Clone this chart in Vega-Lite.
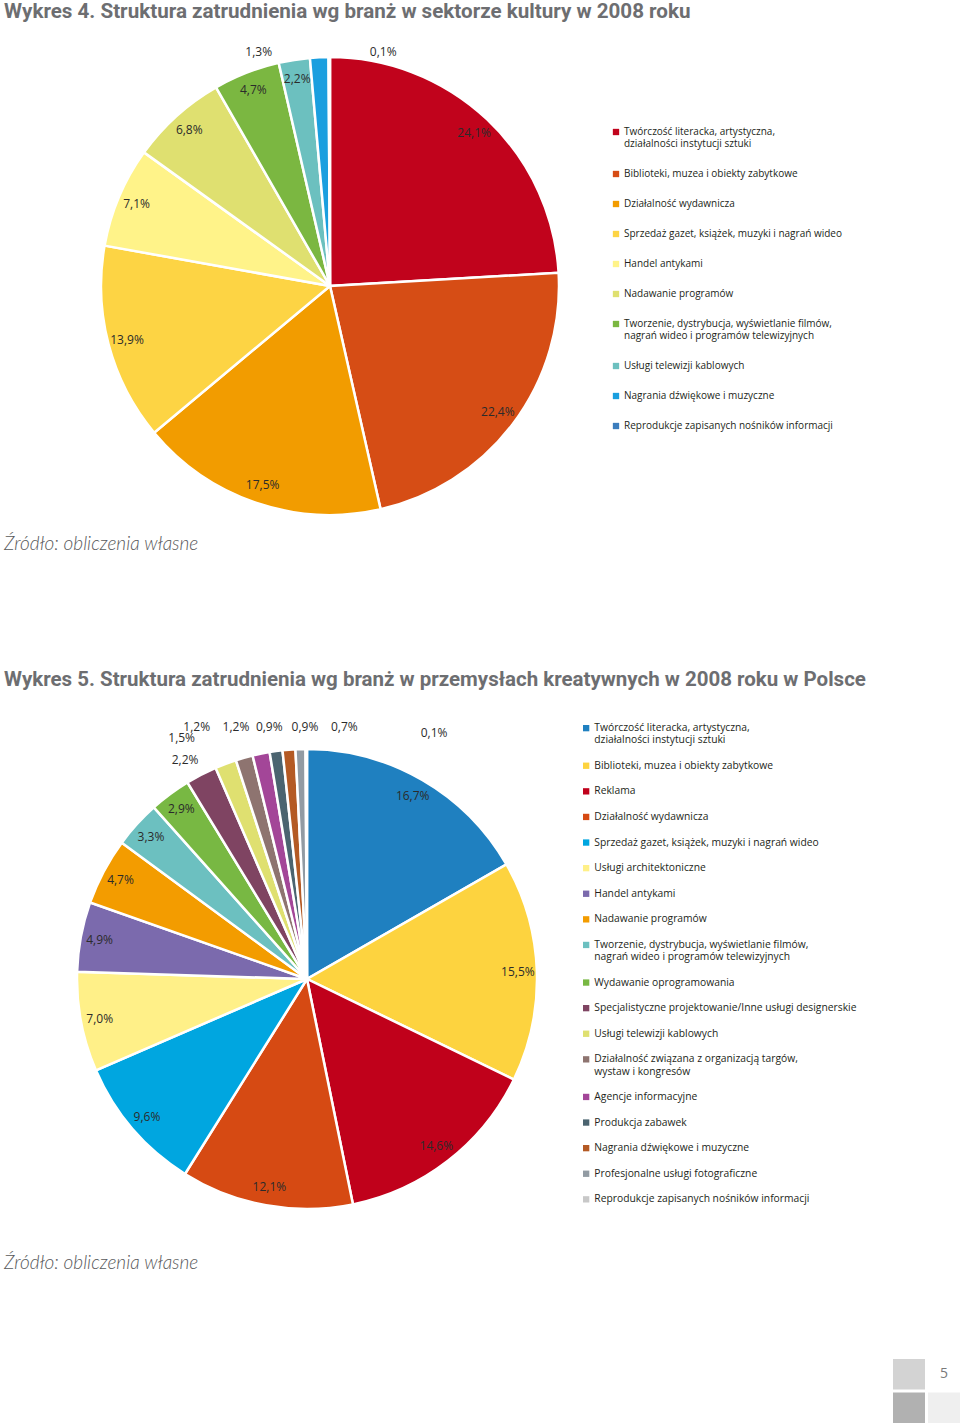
{
  "$schema": "https://vega.github.io/schema/vega-lite/v6.json",
  "padding": {"top": 1, "left": 0, "right": 0, "bottom": 0},
  "background": "#ffffff",
  "config": {
    "view": {"stroke": null},
    "locale": {"number": {"decimal": ",", "thousands": " ", "grouping": [3], "currency": ["", " zł"]}},
    "text": {"font": "Open Sans"}
  },
  "datasets": {
    "k": [
      {"idx": 1, "cat": "Twórczość literacka, artystyczna, działalności instytucji sztuki", "v": 0.241},
      {"idx": 2, "cat": "Biblioteki, muzea i obiekty zabytkowe", "v": 0.224},
      {"idx": 3, "cat": "Działalność wydawnicza", "v": 0.175},
      {"idx": 4, "cat": "Sprzedaż gazet, książek, muzyki i nagrań wideo", "v": 0.139},
      {"idx": 5, "cat": "Handel antykami", "v": 0.071},
      {"idx": 6, "cat": "Nadawanie programów", "v": 0.068},
      {"idx": 7, "cat": "Tworzenie, dystrybucja, wyświetlanie filmów, nagrań wideo i programów telewizyjnych", "v": 0.047},
      {"idx": 8, "cat": "Usługi telewizji kablowych", "v": 0.022},
      {"idx": 9, "cat": "Nagrania dźwiękowe i muzyczne", "v": 0.013},
      {"idx": 10, "cat": "Reprodukcje zapisanych nośników informacji", "v": 0.001}
    ],
    "p": [
      {"idx": 1, "cat": "Twórczość literacka, artystyczna, działalności instytucji sztuki", "v": 0.167},
      {"idx": 2, "cat": "Biblioteki, muzea i obiekty zabytkowe", "v": 0.155},
      {"idx": 3, "cat": "Reklama", "v": 0.146},
      {"idx": 4, "cat": "Działalność wydawnicza", "v": 0.121},
      {"idx": 5, "cat": "Sprzedaż gazet, książek, muzyki i nagrań wideo", "v": 0.096},
      {"idx": 6, "cat": "Usługi architektoniczne", "v": 0.070},
      {"idx": 7, "cat": "Handel antykami", "v": 0.049},
      {"idx": 8, "cat": "Nadawanie programów", "v": 0.047},
      {"idx": 9, "cat": "Tworzenie, dystrybucja, wyświetlanie filmów, nagrań wideo i programów telewizyjnych", "v": 0.033},
      {"idx": 10, "cat": "Wydawanie oprogramowania", "v": 0.029},
      {"idx": 11, "cat": "Specjalistyczne projektowanie/Inne usługi designerskie", "v": 0.022},
      {"idx": 12, "cat": "Usługi telewizji kablowych", "v": 0.015},
      {"idx": 13, "cat": "Działalność związana z organizacją targów, wystaw i kongresów", "v": 0.012},
      {"idx": 14, "cat": "Agencje informacyjne", "v": 0.012},
      {"idx": 15, "cat": "Produkcja zabawek", "v": 0.009},
      {"idx": 16, "cat": "Nagrania dźwiękowe i muzyczne", "v": 0.009},
      {"idx": 17, "cat": "Profesjonalne usługi fotograficzne", "v": 0.007},
      {"idx": 18, "cat": "Reprodukcje zapisanych nośników informacji", "v": 0.001}
    ],
    "page": [
      {"col": "a", "row": "1", "cell": "s1", "page": ""},
      {"col": "b", "row": "1", "cell": "s0", "page": "5"},
      {"col": "a", "row": "2", "cell": "s3", "page": ""},
      {"col": "b", "row": "2", "cell": "s2", "page": ""}
    ]
  },
  "spacing": 114,
  "resolve": {"scale": {"color": "independent"}, "legend": {"color": "independent"}},
  "vconcat": [
    {
      "title": {"text": "Źródło: obliczenia własne", "orient": "bottom", "anchor": "start", "font": "Lato", "fontStyle": "italic", "fontWeight": 300, "fontSize": 19, "color": "#58595b", "offset": 10, "dx": 4},
      "vconcat": [
        {
          "title": {"text": "Wykres 4. Struktura zatrudnienia wg branż w sektorze kultury w 2008 roku", "anchor": "start", "font": "Roboto", "fontSize": 20.6, "fontWeight": "bold", "color": "#6d6e71", "offset": 23.4, "dx": 4},
          "width": 660,
          "height": 460,
          "data": {"name": "k"},
          "encoding": {
            "theta": {"field": "v", "type": "quantitative", "stack": true},
            "order": {"field": "idx", "type": "quantitative"}
          },
          "layer": [
            {
              "mark": {"type": "arc", "outerRadius": 229, "stroke": "#ffffff", "strokeWidth": 2.5},
              "encoding": {
                "color": {
                  "field": "cat", "type": "nominal",
                  "scale": {
                    "domain": ["Twórczość literacka, artystyczna, działalności instytucji sztuki", "Biblioteki, muzea i obiekty zabytkowe", "Działalność wydawnicza", "Sprzedaż gazet, książek, muzyki i nagrań wideo", "Handel antykami", "Nadawanie programów", "Tworzenie, dystrybucja, wyświetlanie filmów, nagrań wideo i programów telewizyjnych", "Usługi telewizji kablowych", "Nagrania dźwiękowe i muzyczne", "Reprodukcje zapisanych nośników informacji"],
                    "range": ["#c1031c", "#d64d15", "#f29c00", "#fdd444", "#fff389", "#dfe070", "#7bb741", "#6cc0bf", "#1a9fdf", "#3b7dbd"]
                  },
                  "legend": {
                    "orient": "none", "legendX": 611, "legendY": 71, "direction": "vertical", "title": null,
                    "symbolType": "square", "symbolSize": 40, "symbolStrokeWidth": 0, "symbolOffset": 0,
                    "labelFont": "Open Sans", "labelFontSize": 10, "labelColor": "#231f20", "labelLimit": 400, "labelOffset": 3,
                    "rowPadding": 20, "padding": 0,
                    "labelExpr": "split(replace(replace(replace(datum.label, 'artystyczna, ', 'artystyczna,|'), 'filmów, ', 'filmów,|'), 'targów, ', 'targów,|'), '|')"
                  }
                }
              }
            },
            {
              "mark": {"type": "text", "radius": 210, "fontSize": 12, "color": "#2b2b2b", "font": "Open Sans"},
              "encoding": {"detail": {"field": "cat"}, "text": {"field": "v", "type": "quantitative", "format": ".1%", "condition": {"test": "datum.v < 0.02", "value": ""}}}
            },
            {
              "mark": {"type": "text", "radius": 240, "dx": -60, "dy": 5.5, "fontSize": 12, "color": "#2b2b2b", "font": "Open Sans"},
              "encoding": {"detail": {"field": "cat"}, "text": {"field": "v", "type": "quantitative", "format": ".1%", "condition": {"test": "datum.idx != 9", "value": ""}}}
            },
            {
              "mark": {"type": "text", "radius": 240, "dx": 54, "dy": 5.7, "fontSize": 12, "color": "#2b2b2b", "font": "Open Sans"},
              "encoding": {"detail": {"field": "cat"}, "text": {"field": "v", "type": "quantitative", "format": ".1%", "condition": {"test": "datum.idx != 10", "value": ""}}}
            }
          ]
        }
      ]
    },
    {
      "spacing": 85,
      "resolve": {"scale": {"color": "independent"}, "legend": {"color": "independent"}},
      "vconcat": [
        {
          "title": {"text": "Źródło: obliczenia własne", "orient": "bottom", "anchor": "start", "font": "Lato", "fontStyle": "italic", "fontWeight": 300, "fontSize": 19, "color": "#58595b", "offset": 20, "dx": 4},
          "vconcat": [
            {
              "title": {"text": "Wykres 5. Struktura zatrudnienia wg branż w przemysłach kreatywnych w 2008 roku w Polsce", "anchor": "start", "font": "Roboto", "fontSize": 20.5, "fontWeight": "bold", "color": "#6d6e71", "offset": 21.5, "dx": 4},
              "width": 614,
              "height": 460,
              "data": {"name": "p"},
              "encoding": {
                "theta": {"field": "v", "type": "quantitative", "stack": true},
                "order": {"field": "idx", "type": "quantitative"}
              },
              "layer": [
                {
                  "mark": {"type": "arc", "outerRadius": 230, "stroke": "#ffffff", "strokeWidth": 2.5},
                  "encoding": {
                    "color": {
                      "field": "cat", "type": "nominal",
                      "scale": {
                        "domain": ["Twórczość literacka, artystyczna, działalności instytucji sztuki", "Biblioteki, muzea i obiekty zabytkowe", "Reklama", "Działalność wydawnicza", "Sprzedaż gazet, książek, muzyki i nagrań wideo", "Usługi architektoniczne", "Handel antykami", "Nadawanie programów", "Tworzenie, dystrybucja, wyświetlanie filmów, nagrań wideo i programów telewizyjnych", "Wydawanie oprogramowania", "Specjalistyczne projektowanie/Inne usługi designerskie", "Usługi telewizji kablowych", "Działalność związana z organizacją targów, wystaw i kongresów", "Agencje informacyjne", "Produkcja zabawek", "Nagrania dźwiękowe i muzyczne", "Profesjonalne usługi fotograficzne", "Reprodukcje zapisanych nośników informacji"],
                        "range": ["#1f80c0", "#fdd33f", "#c0011b", "#d64a13", "#00a6e0", "#fff088", "#7b6aad", "#f39c00", "#6cc0c0", "#78b843", "#7f4462", "#dfe070", "#8e7470", "#a34698", "#4b6470", "#b45a24", "#929ba3", "#c8c8c8"]
                      },
                      "legend": {
                        "orient": "none", "legendX": 581, "legendY": -26, "direction": "vertical", "title": null,
                        "symbolType": "square", "symbolSize": 40, "symbolStrokeWidth": 0, "symbolOffset": 0,
                        "labelFont": "Open Sans", "labelFontSize": 10.3, "labelColor": "#231f20", "labelLimit": 400, "labelOffset": 3,
                        "rowPadding": 14.6, "padding": 0,
                        "labelExpr": "split(replace(replace(replace(datum.label, 'artystyczna, ', 'artystyczna,|'), 'filmów, ', 'filmów,|'), 'targów, ', 'targów,|'), '|')"
                      }
                    }
                  }
                },
                {
                  "mark": {"type": "text", "radius": 211, "fontSize": 12, "color": "#2b2b2b", "font": "Open Sans"},
                  "encoding": {"detail": {"field": "cat"}, "text": {"field": "v", "type": "quantitative", "format": ".1%", "condition": {"test": "datum.v < 0.025", "value": ""}}}
                },
                {
                  "mark": {"type": "text", "radius": 250, "dx": -7, "dy": 3, "fontSize": 12, "color": "#2b2b2b", "font": "Open Sans"},
                  "encoding": {"detail": {"field": "cat"}, "text": {"field": "v", "type": "quantitative", "format": ".1%", "condition": {"test": "datum.idx != 11", "value": ""}}}
                },
                {
                  "mark": {"type": "text", "radius": 240, "dx": -40.5, "dy": -16.8, "fontSize": 12, "color": "#2b2b2b", "font": "Open Sans"},
                  "encoding": {"detail": {"field": "cat"}, "text": {"field": "v", "type": "quantitative", "format": ".1%", "condition": {"test": "datum.idx != 12", "value": ""}}}
                },
                {
                  "mark": {"type": "text", "radius": 240, "dx": -44.8, "dy": -21.1, "fontSize": 12, "color": "#2b2b2b", "font": "Open Sans"},
                  "encoding": {"detail": {"field": "cat"}, "text": {"field": "v", "type": "quantitative", "format": ".1%", "condition": {"test": "datum.idx != 13", "value": ""}}}
                },
                {
                  "mark": {"type": "text", "radius": 240, "dx": -23.1, "dy": -16.8, "fontSize": 12, "color": "#2b2b2b", "font": "Open Sans"},
                  "encoding": {"detail": {"field": "cat"}, "text": {"field": "v", "type": "quantitative", "format": ".1%", "condition": {"test": "datum.idx != 14", "value": ""}}}
                },
                {
                  "mark": {"type": "text", "radius": 240, "dx": -5.4, "dy": -14.2, "fontSize": 12, "color": "#2b2b2b", "font": "Open Sans"},
                  "encoding": {"detail": {"field": "cat"}, "text": {"field": "v", "type": "quantitative", "format": ".1%", "condition": {"test": "datum.idx != 15", "value": ""}}}
                },
                {
                  "mark": {"type": "text", "radius": 240, "dx": 16.8, "dy": -12.7, "fontSize": 12, "color": "#2b2b2b", "font": "Open Sans"},
                  "encoding": {"detail": {"field": "cat"}, "text": {"field": "v", "type": "quantitative", "format": ".1%", "condition": {"test": "datum.idx != 16", "value": ""}}}
                },
                {
                  "mark": {"type": "text", "radius": 240, "dx": 44.1, "dy": -12.1, "fontSize": 12, "color": "#2b2b2b", "font": "Open Sans"},
                  "encoding": {"detail": {"field": "cat"}, "text": {"field": "v", "type": "quantitative", "format": ".1%", "condition": {"test": "datum.idx != 17", "value": ""}}}
                },
                {
                  "mark": {"type": "text", "radius": 240, "dx": 127.8, "dy": -6.3, "fontSize": 12, "color": "#2b2b2b", "font": "Open Sans"},
                  "encoding": {"detail": {"field": "cat"}, "text": {"field": "v", "type": "quantitative", "format": ".1%", "condition": {"test": "datum.idx != 18", "value": ""}}}
                }
              ]
            }
          ]
        },
        {
          "width": 960,
          "height": 64,
          "data": {"name": "page"},
          "encoding": {
            "x": {"field": "col", "type": "nominal", "axis": null, "scale": {"range": [893, 960], "paddingInner": 0.0857, "paddingOuter": 0}},
            "y": {"field": "row", "type": "nominal", "axis": null, "scale": {"paddingInner": 0.09, "paddingOuter": 0}}
          },
          "layer": [
            {
              "mark": {"type": "rect"},
              "encoding": {"color": {"field": "cell", "type": "nominal", "legend": null, "scale": {"domain": ["s0", "s1", "s2", "s3"], "range": ["#ffffff", "#d3d3d3", "#efefef", "#b1b1b1"]}}}
            },
            {
              "mark": {"type": "text", "fontSize": 14, "color": "#7a7a7a", "font": "Open Sans"},
              "encoding": {"text": {"field": "page", "type": "nominal"}}
            }
          ]
        }
      ]
    }
  ]
}
